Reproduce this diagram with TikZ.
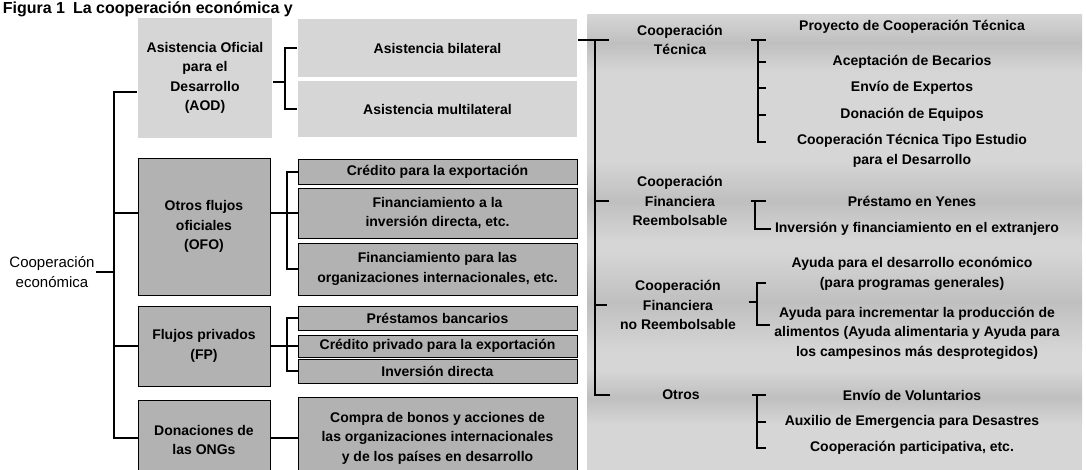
\documentclass[tikz,border=0pt]{standalone}
\usepackage{fontspec}
\setmainfont{Liberation Sans}
\usetikzlibrary{calc,positioning}
\tikzstyle{plain}=[align=center, inner sep=1pt]
\tikzstyle{lbox}=[fill=gray!32, align=center, inner sep=0pt, minimum width=279]
\tikzstyle{dbox}=[fill=gray!60, draw=black, line width=0.8pt, align=center, inner sep=0pt, minimum width=279]
\tikzstyle{catlbl}=[align=center, inner sep=0pt, minimum width=140]
\tikzstyle{itm}=[align=center, inner ysep=0pt, inner xsep=3pt, minimum width=290]
\tikzstyle{band}=[top color=gray!32, bottom color=gray!32, middle color=gray!50]

\begin{document}
\begin{tikzpicture}[x=1pt,y=-1pt,line width=1.8pt,font=\bfseries\fontsize{14}{19.5}\selectfont]
\useasboundingbox (0,0) rectangle (1086,469);
\node (title) [anchor=base west, inner sep=0pt, font=\bfseries\fontsize{16}{16}\selectfont] at (2,13) {Figura 1\enspace La cooperación económica y};

% fondo derecho
\fill[gray!32] (587,14) rectangle (1082,475);
\path[band] (587,14) rectangle (1082,72);
\path[band] (587,160) rectangle (1082,242);
\path[band] (587,252) rectangle (1082,352);
\path[band] (587,370) rectangle (1082,425);

\node (coop) [plain, font=\fontsize{15}{20}\selectfont] at (52,272) {Cooperación\\económica};

\node (aod) [lbox, minimum width=134, minimum height=120] at (205,78) {Asistencia Oficial\\para el\\Desarrollo\\(AOD)};
\node (bil) [lbox, minimum height=58] at (437.5,48) {Asistencia bilateral};
\node (mul) [lbox, minimum height=56] at (437.5,109) {Asistencia multilateral};

\node (ofo) [dbox, minimum width=132, minimum height=137] at (204,226.5) {Otros flujos\\oficiales\\(OFO)};
\node (cre) [dbox, minimum height=25] at (437.5,172) {Crédito para la exportación};
\node (fin) [dbox, minimum height=50] at (437.5,213) {Financiamiento a la\\inversión directa, etc.};
\node (org) [dbox, minimum height=52] at (437.5,269) {Financiamiento para las\\organizaciones internacionales, etc.};

\node (fp) [dbox, minimum width=132, minimum height=80] at (204,346) {Flujos privados\\(FP)};
\node (pre) [dbox, minimum height=24] at (437.5,318) {Préstamos bancarios};
\node (cpr) [dbox, minimum height=22] at (437.5,346) {Crédito privado para la exportación};
\node (inv) [dbox, minimum height=24] at (437.5,371) {Inversión directa};

\node (ong) [dbox, minimum width=132, minimum height=80] at (204,440) {Donaciones de\\las ONGs};
\node (com) [dbox, minimum height=82] at (437.5,438) {Compra de bonos y acciones de\\las organizaciones internacionales\\y de los países en desarrollo};

\node (tec) [catlbl] at (680,40) {Cooperación\\Técnica};
\node (ree) [catlbl] at (680,201) {Cooperación\\Financiera\\Reembolsable};
\node (nre) [catlbl] at (678,305) {Cooperación\\Financiera\\no Reembolsable};
\node (otr) [catlbl] at (681,395) {Otros};

\node (pro) [itm] at (912,27) {Proyecto de Cooperación Técnica};
\node (acp) [itm] at (912,62) {Aceptación de Becarios};
\node (env) [itm] at (912,88) {Envío de Expertos};
\node (don) [itm] at (912,115) {Donación de Equipos};
\node (cte) [itm] at (912,151) {Cooperación Técnica Tipo Estudio\\para el Desarrollo};
\node (pry) [itm] at (912,201) {Préstamo en Yenes};
\node (ive) [itm] at (917,229) {Inversión y financiamiento en el extranjero};
\node (ade) [itm] at (912,274) {Ayuda para el desarrollo económico\\(para programas generales)};
\node (ali) [itm] at (917,333) {Ayuda para incrementar la producción de\\alimentos (Ayuda alimentaria y Ayuda para\\los campesinos más desprotegidos)};
\node (vol) [itm] at (912,395) {Envío de Voluntarios};
\node (aux) [itm] at (912,422) {Auxilio de Emergencia para Desastres};
\node (par) [itm] at (912,448) {Cooperación participativa, etc.};

\coordinate (lv) at (114,92);
\coordinate (lb) at (114,438);
\coordinate (ab) at (285,82);
\coordinate (ob) at (287,213);
\coordinate (fb) at (287,346);
\coordinate (rv) at (595,40);
\coordinate (tb) at (758,40);
\coordinate (rb) at (755,201);
\coordinate (nb) at (757,302);
\coordinate (xb) at (757,395);

\draw (coop.east) -- (lv |- coop.east);
\draw (aod.west |- lv) -- (lv) -- (lb) -- (ong.west |- lb);
\draw (lv |- fin.west) -- (ofo.west |- fin.west);
\draw (lv |- fp.west) -- (fp.west);

\draw (aod.east |- ab) -- (ab);
\draw (bil.west) -| (ab) |- (mul.west);
\draw (ofo.east |- fin.west) -- (fin.west);
\draw (cre.west) -| (ob) |- (org.west);
\draw (fp.east) -- (cpr.west);
\draw (pre.west) -| (fb) |- (inv.west);
\draw (ong.east |- com.west) -- (com.west);

\draw (bil.east |- rv) -- (tec.west);
\draw (rv) |- (otr.west);
\draw (rv |- ree.west) -- (ree.west);
\draw (rv |- nre.west) -- (nre.west);

\draw (tec.east) -- (pro.west |- tec.east);
\draw (tb) |- ([yshift=9pt]cte.west);
\draw (tb |- acp.west) -- (acp.west);
\draw (tb |- env.west) -- (env.west);
\draw (tb |- don.west) -- (don.west);
\draw (ree.east) -- (pry.west);
\draw (rb) |- (ive.west);
\draw (nre.east |- nb) -- (nb);
\draw ([yshift=-9pt]ade.west) -| (nb) |- ([yshift=8pt]ali.west);
\draw (otr.east) -- (vol.west);
\draw (xb) |- (par.west);
\draw (xb |- aux.west) -- (aux.west);
\end{tikzpicture}
\end{document}
